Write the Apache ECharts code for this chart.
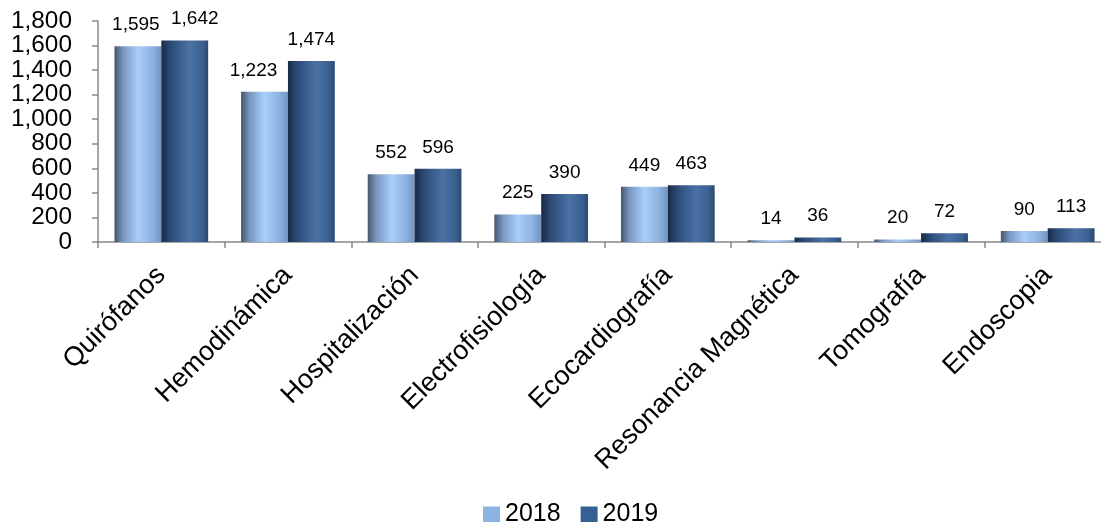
<!DOCTYPE html>
<html>
<head>
<meta charset="utf-8">
<script src="https://cdn.jsdelivr.net/npm/echarts@6/dist/echarts.min.js"></script>
<style>
  html, body { margin: 0; padding: 0; background: #ffffff; overflow: hidden; }
  #chart { width: 1101px; height: 522px; }
</style>
</head>
<body>
<div id="chart"></div>
<script>
// Procedimientos por área, 2018 vs 2019
const categories = ['Quirófanos', 'Hemodinámica', 'Hospitalización', 'Electrofisiología',
  'Ecocardiografía', 'Resonancia Magnética', 'Tomografía', 'Endoscopia'];
const values2018 = [1595, 1223, 552, 225, 449, 14, 20, 90];
const values2019 = [1642, 1474, 596, 390, 463, 36, 72, 113];
const seriesNames = ['2018', '2019'];

const FONT = '"Liberation Sans", Arial, sans-serif';
const fmt = v => Number(v).toLocaleString('en-US');

// Cylinder-like horizontal shading for each series
const grad2018 = new echarts.graphic.LinearGradient(0, 0, 1, 0, [
  { offset: 0, color: '#46556b' },
  { offset: 0.18, color: '#7896c0' },
  { offset: 0.5, color: '#a9cefa' },
  { offset: 0.8, color: '#8fb4e2' },
  { offset: 1, color: '#7194c0' }
]);
const grad2019 = new echarts.graphic.LinearGradient(0, 0, 1, 0, [
  { offset: 0, color: '#1a2a44' },
  { offset: 0.2, color: '#2c4b77' },
  { offset: 0.6, color: '#4a72a5' },
  { offset: 0.88, color: '#3a5f90' },
  { offset: 1, color: '#2b4770' }
]);

// Horizontal nudges for tall neighbouring labels so they don't collide
const labelNudge = [
  { 0: -2, 1: -11 },   // 2018
  { 0: 10 }            // 2019
];

const labelStyle = {
  show: true,
  position: 'top',
  distance: 12,
  fontFamily: FONT,
  fontSize: 19,
  color: '#000',
  formatter: p => fmt(p.value)
};

function nudgeLayout(seriesIdx) {
  return function (params) {
    const dx = labelNudge[seriesIdx][params.dataIndex] || 0;
    return { dx: dx, hideOverlap: false };
  };
}

const chart = echarts.init(document.getElementById('chart'), null, { renderer: 'canvas' });
chart.setOption({
  animation: false,
  grid: { left: 98, width: 1013, top: 21, bottom: 280, containLabel: false, outerBoundsMode: 'none' },
  legend: {
    top: 497,
    left: 478,
    itemWidth: 17,
    itemHeight: 16,
    itemGap: 20,
    icon: 'rect',
    textStyle: { fontFamily: FONT, fontSize: 25, color: '#000' },
    data: [
      { name: seriesNames[0], itemStyle: { color: '#8db3e2' } },
      { name: seriesNames[1], itemStyle: { color: '#366092' } }
    ]
  },
  xAxis: {
    type: 'category',
    data: categories,
    boundaryGap: true,
    axisLine: { lineStyle: { color: '#888888', width: 1.5 } },
    axisTick: { show: true, length: 6, alignWithLabel: false, lineStyle: { color: '#888888', width: 1.5 } },
    axisLabel: {
      interval: 0,
      rotate: 45,
      margin: 29,
      fontFamily: FONT,
      fontSize: 27,
      color: '#000',
      hideOverlap: false
    }
  },
  yAxis: {
    type: 'value',
    min: 0,
    max: 1800,
    interval: 200,
    splitLine: { show: false },
    axisLine: { show: true, lineStyle: { color: '#888888', width: 1.5 } },
    axisTick: { show: true, length: 6, lineStyle: { color: '#888888', width: 1.5 } },
    axisLabel: {
      margin: 26,
      fontFamily: FONT,
      fontSize: 24.4,
      color: '#000',
      showMinLabel: true,
      showMaxLabel: true,
      formatter: v => fmt(v)
    }
  },
  series: [
    {
      name: seriesNames[0],
      type: 'bar',
      data: values2018,
      barGap: '0%',
      barCategoryGap: '26%',
      itemStyle: { color: grad2018 },
      label: labelStyle,
      labelLayout: nudgeLayout(0)
    },
    {
      name: seriesNames[1],
      type: 'bar',
      data: values2019,
      barGap: '0%',
      barCategoryGap: '26%',
      itemStyle: { color: grad2019 },
      label: labelStyle,
      labelLayout: nudgeLayout(1)
    }
  ]
});
</script>
</body>
</html>
